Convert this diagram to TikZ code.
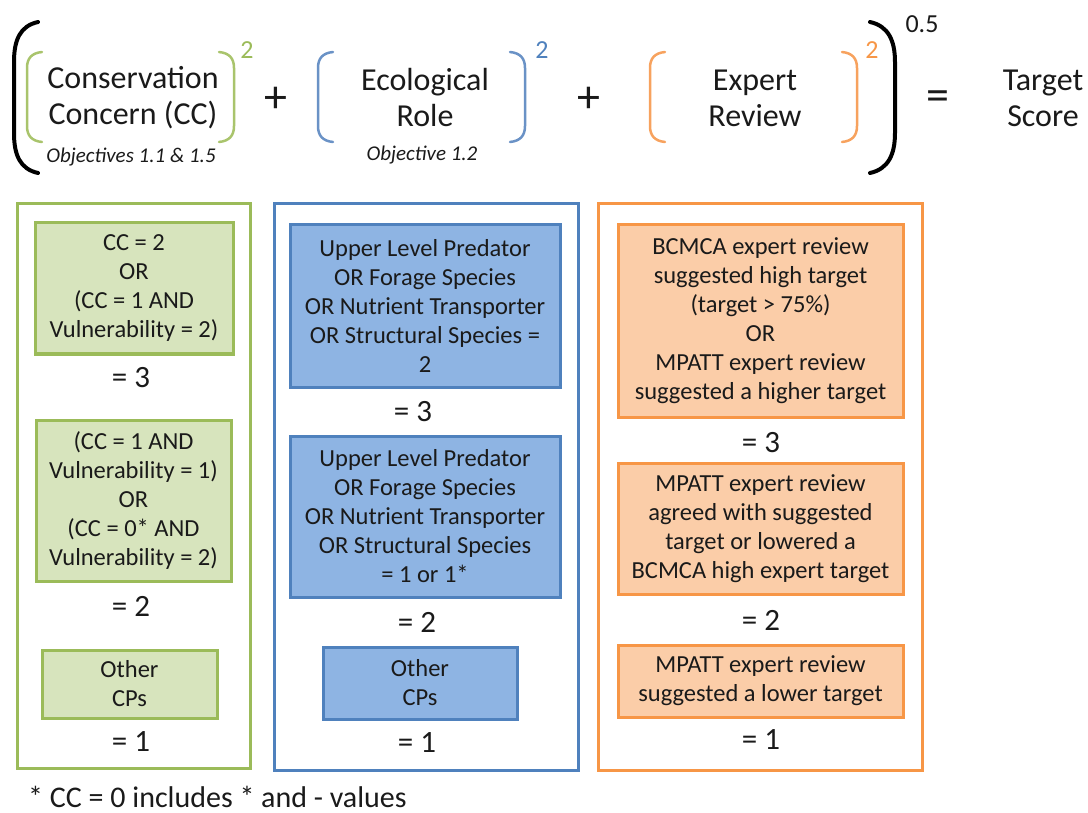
\documentclass[tikz,border=0pt]{standalone}
\usepackage{fontspec}
\setmainfont{Carlito}
\definecolor{grnD}{HTML}{9BBB59}
\definecolor{grnF}{HTML}{D7E4BD}
\definecolor{grnB}{HTML}{A9C46C}
\definecolor{bluD}{HTML}{4F81BD}
\definecolor{bluF}{HTML}{8EB4E3}
\definecolor{bluB}{HTML}{6A92C6}
\definecolor{ornD}{HTML}{F79646}
\definecolor{ornF}{HTML}{FBCDA8}
\definecolor{ornB}{HTML}{F7A25E}
\definecolor{ink}{HTML}{1A1A1A}
\newcommand\bxfont{\fontsize{24.5}{29}\selectfont}
\newcommand\hdfont{\fontsize{32}{36}\selectfont}
\newcommand\eqfont{\fontsize{31}{34}\selectfont}
\newcommand\opfont{\fontsize{46}{48}\selectfont}
\tikzset{
  panel/.style={draw, line width=3, fill=white, inner sep=0},
  crit/.style={draw, line width=3, align=center, inner sep=0, text=ink, font=\bxfont},
  score/.style={text=ink, font=\eqfont, inner sep=0},
  head/.style={align=center, text=ink, font=\hdfont, inner sep=0},
  oper/.style={text=ink, font=\opfont, inner sep=0},
  objt/.style={text=ink, font=\fontsize{21}{24}\selectfont\itshape, inner sep=0},
  sqr/.style={font=\fontsize{26}{28}\selectfont, inner sep=0},
  % thin curved bracket, centred on its vertical mid point
  lbr/.pic={\draw[pic actions, line width=2.5, line cap=round]
    (7,-45) .. controls (-3,-44) and (-8,-39) .. (-8,-29) -- (-8,29)
    .. controls (-8,39) and (-3,44) .. (7,45);},
  rbr/.pic={\draw[pic actions, line width=2.5, line cap=round]
    (-7,-45) .. controls (3,-44) and (8,-39) .. (8,-29) -- (8,29)
    .. controls (8,39) and (3,44) .. (-7,45);},
}
\begin{document}
\begin{tikzpicture}[x=1pt,y=-1pt]
\useasboundingbox (0,0) rectangle (1088,813);

% ---- formula line ----
\draw[line width=4, line cap=round] (38,22) .. controls (20,26) and (14,40) .. (14,62)
  -- (14,133) .. controls (14,155) and (20,169) .. (38,173);
\draw[line width=4, line cap=round] (870,22) .. controls (888,26) and (895,40) .. (895,62)
  -- (895,133) .. controls (895,155) and (888,169) .. (870,173);

\pic[draw=grnB] at (35,97) {lbr};
\pic[draw=grnB] at (226,97) {rbr};
\pic[draw=bluB] at (326,97) {lbr};
\pic[draw=bluB] at (517,97) {rbr};
\pic[draw=ornB] at (658,97) {lbr};
\pic[draw=ornB] at (849,97) {rbr};

\node[head] (hcc) at (133,98) {Conservation\\Concern (CC)};
\node[head] (her) at (425,98) {Ecological\\Role};
\node[head] (hex) at (755,98) {Expert\\Review};
\node[head] (hts) at (1043,98) {Target\\Score};
\node[objt] (occ) at (131,157) {Objectives 1.1 \& 1.5};
\node[objt] (oer) at (422,155) {Objective 1.2};
\node[oper] (pl1) at (276,100) {+};
\node[oper] (pl2) at (589,100) {+};
\node[oper] (eqs) at (938,101) {=};
\node[sqr, text=grnD] (s1) at (247,50) {2};
\node[sqr, text=bluD] (s2) at (542,50) {2};
\node[sqr, text=ornD] (s3) at (872,50) {2};
\node[sqr, text=ink] (s4) at (922,24) {0.5};

% ---- panels ----
\node[panel, draw=grnD, minimum width=233, minimum height=564] (pg) at (133.5,486) {};
\node[panel, draw=bluD, minimum width=304, minimum height=566] (pb) at (426,487) {};
\node[panel, draw=ornD, minimum width=324, minimum height=566] (po) at (760,487) {};

% conservation concern
\node[crit, draw=grnD, fill=grnF, minimum width=198, minimum height=131] (g1) at (134,288.5)
  {CC = 2\\OR\\(CC = 1 AND\\Vulnerability = 2)};
\node[score] (g1s) at (131,378) {= 3};
\node[crit, draw=grnD, fill=grnF, minimum width=195, minimum height=161] (g2) at (133.5,500.5)
  {(CC = 1 AND\\Vulnerability = 1)\\OR\\(CC = 0* AND\\Vulnerability = 2)};
\node[score] (g2s) at (131,606) {= 2};
\node[crit, draw=grnD, fill=grnF, minimum width=175, minimum height=68] (g3) at (129.5,684)
  {Other\\CPs};
\node[score] (g3s) at (131,742) {= 1};

% ecological role
\node[crit, draw=bluD, fill=bluF, minimum width=270, minimum height=162] (b1) at (425,306)
  {Upper Level Predator\\OR Forage Species\\OR Nutrient Transporter\\OR Structural Species =\\2};
\node[score] (b1s) at (413,412) {= 3};
\node[crit, draw=bluD, fill=bluF, minimum width=270, minimum height=161] (b2) at (425,516.5)
  {Upper Level Predator\\OR Forage Species\\OR Nutrient Transporter\\OR Structural Species\\= 1 or 1*};
\node[score] (b2s) at (417,622) {= 2};
\node[crit, draw=bluD, fill=bluF, minimum width=194, minimum height=72] (b3) at (420,683)
  {Other\\CPs};
\node[score] (b3s) at (417,743) {= 1};

% expert review
\node[crit, draw=ornD, fill=ornF, minimum width=285, minimum height=192] (o1) at (760.5,321)
  {BCMCA expert review\\suggested high target\\(target > 75\%)\\OR\\MPATT expert review\\suggested a higher target};
\node[score] (o1s) at (761,443) {= 3};
\node[crit, draw=ornD, fill=ornF, minimum width=285, minimum height=131] (o2) at (760.5,528.5)
  {MPATT expert review\\agreed with suggested\\target or lowered a\\BCMCA high expert target};
\node[score] (o2s) at (761,620) {= 2};
\node[crit, draw=ornD, fill=ornF, minimum width=285, minimum height=72] (o3) at (760.5,681)
  {MPATT expert review\\suggested a lower target};
\node[score] (o3s) at (761,740) {= 1};

% footnote
\node[anchor=west, text=ink, font=\fontsize{30}{32}\selectfont, inner sep=0] (fn) at (28,797)
  {* CC = 0 includes * and - values};
\end{tikzpicture}
\end{document}
